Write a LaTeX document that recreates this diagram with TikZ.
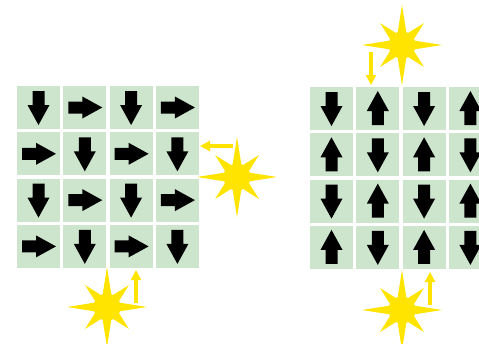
\documentclass[tikz,border=0pt]{standalone}
\usetikzlibrary{arrows.meta}

\definecolor{cellgreen}{RGB}{205,229,205}
\definecolor{sunyellow}{RGB}{255,228,0}

\newcommand{\drawsun}[1]{%
    \begin{scope}[shift={#1}]
        \fill[sunyellow] (0:40) \foreach \a in {0,90,180,270} { -- (\a+22.5:12) -- (\a+45:31) -- (\a+67.5:12) -- (\a+90:40) } -- cycle;
        \fill[sunyellow] (0,0) circle (13.5);
    \end{scope}}

\begin{document}
\begin{tikzpicture}[x=1pt,y=-1pt,
    cell/.style={fill=cellgreen},
    blockarrow/.style={fill=black},
    lightray/.style={draw=sunyellow,line width=3.5pt,-{Triangle[length=10pt,width=10pt]}}]

    \useasboundingbox (0,0) rectangle (479,343);
    \clip (0,0) rectangle (479,343);

    % Left grid
    \foreach \i in {0,...,3} {
        \foreach \j in {0,...,3} {
            \fill[cell] (17+\i*46.3,86+\j*46.3) rectangle ++(43,43);
            \pgfmathsetmacro\rot{ifthenelse(mod(\i+\j,2)==0,-90,0)}
            \fill[blockarrow,shift={(38.5+\i*46.3,107.5+\j*46.3)},rotate=\rot]
                (-16.5,-6) -- (-2.5,-6) -- (-2.5,-11) -- (17.5,0) -- (-2.5,11) -- (-2.5,6) -- (-16.5,6) -- cycle;
        }
    }

    % Right grid
    \foreach \i in {0,...,3} {
        \foreach \j in {0,...,3} {
            \fill[cell] (310+\i*46.3,87+\j*46.3) rectangle ++(43,43);
            \pgfmathsetmacro\rot{ifthenelse(mod(\i+\j,2)==0,-90,90)}
            \fill[blockarrow,shift={(331.5+\i*46.3,108.5+\j*46.3)},rotate=\rot]
                (-16.5,-6) -- (-2.5,-6) -- (-2.5,-11) -- (17.5,0) -- (-2.5,11) -- (-2.5,6) -- (-16.5,6) -- cycle;
        }
    }

    % Suns
    \drawsun{(237,177)}
    \drawsun{(107,307)}
    \drawsun{(402,45)}
    \drawsun{(402,310)}

    % Light directions
    \draw[lightray] (233,146) -- (200,146);
    \draw[lightray] (136,303) -- (136,270);
    \draw[lightray] (371,52) -- (371,85);
    \draw[lightray] (430,305) -- (430,272);

\end{tikzpicture}
\end{document}
